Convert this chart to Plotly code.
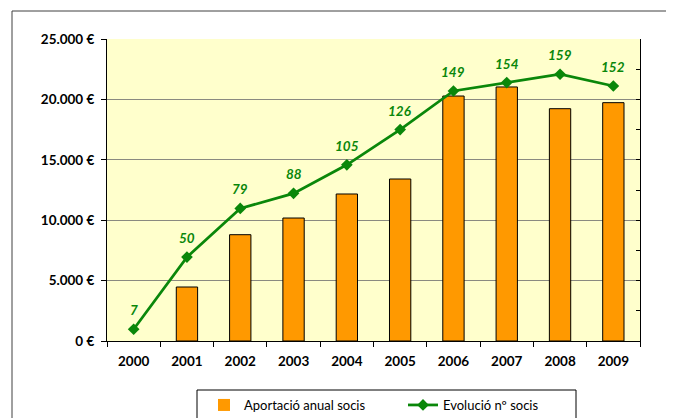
import plotly.graph_objects as go

years = ["2000", "2001", "2002", "2003", "2004", "2005", "2006", "2007", "2008", "2009"]
aportacio = [0, 4470, 8800, 10180, 12170, 13410, 20280, 21030, 19230, 19730]
socis = [7, 50, 79, 88, 105, 126, 149, 154, 159, 152]
y_tickvals = [0, 5000, 10000, 15000, 20000, 25000]
y_ticktext = ["0 €", "5.000 €", "10.000 €", "15.000 €", "20.000 €", "25.000 €"]

green = "#0a870a"
font = "Lato, Open Sans, sans-serif"

W, H = 666, 410   # page body has an 8px margin in the browser
L, T, PW, PH = 99, 31, 533, 302

fig = go.Figure()
fig.add_trace(go.Bar(
    x=years, y=aportacio, name="Aportació anual socis",
    marker=dict(color="#FF9900",
                line=dict(color="#000000", width=[0 if v == 0 else 1 for v in aportacio])),
    yaxis="y",
))
fig.add_trace(go.Scatter(
    x=years, y=socis, name="Evolució nº socis", yaxis="y2",
    mode="lines+markers",
    line=dict(color=green, width=2.75),
    marker=dict(symbol="diamond", size=9, color=green),
))
for i, v in enumerate(socis):
    fig.add_annotation(
        x=i, y=v, xref="x", yref="y2", text=str(v), showarrow=False,
        yshift=19, font=dict(family=font, size=13.5, color=green, weight="bold", style="italic"),
    )

fig.update_layout(
    width=W, height=H,
    margin=dict(l=L, r=W - L - PW, t=T, b=H - T - PH, autoexpand=False),
    paper_bgcolor="white", plot_bgcolor="#FFFFCC",
    bargap=0.6,
    font=dict(family=font, size=12, color="#000000"),
    xaxis=dict(
        type="category", range=[-0.5, len(years) - 0.5],
        showline=True, linecolor="#000000", linewidth=1,
        ticks="outside", tickson="boundaries", ticklen=5, tickcolor="#000000",
        tickfont=dict(family=font, size=13.5, weight="bold"),
        ticklabelstandoff=8,
        showgrid=False, automargin=False, tickangle=0,
    ),
    yaxis=dict(
        range=[0, 25000], tickvals=y_tickvals, ticktext=y_ticktext,
        showline=True, linecolor="#000000", linewidth=1,
        ticks="outside", ticklen=5, tickcolor="#000000",
        showgrid=True, gridcolor="#8a8a80", gridwidth=1,
        tickfont=dict(family=font, size=13.5, weight="bold"),
        ticklabelstandoff=4,
        zeroline=False, automargin=False,
    ),
    yaxis2=dict(
        range=[0, 180], dtick=18, overlaying="y", side="right",
        showline=True, linecolor="#000000", linewidth=1,
        ticks="inside", ticklen=4, tickcolor="#000000",
        showticklabels=False, showgrid=False, zeroline=False, automargin=False,
    ),
    legend=dict(
        orientation="h", x=(204 - 8 - L) / PW, y=-49 / PH, xanchor="left", yanchor="top",
        borderwidth=0, bgcolor="rgba(0,0,0,0)",
        font=dict(family=font, size=13),
        entrywidth=154, traceorder="normal",
    ),
    showlegend=True,
)
# outer chart frame
fig.add_shape(
    type="rect", xref="paper", yref="paper",
    x0=(12 - 8 - L) / PW, x1=(700 - L) / PW,
    y0=-(H + 20 - T - PH) / PH, y1=(T + PH - 3) / PH,
    line=dict(color="#404040", width=1), layer="below",
)
# legend frame
fig.add_shape(
    type="rect", xref="paper", yref="paper",
    x0=(197 - 8 - L) / PW, x1=(576 - 8 - L) / PW,
    y0=-(H + 20 - T - PH) / PH, y1=-49 / PH,
    line=dict(color="#000000", width=1), layer="below",
)

fig.write_html("out.html")
